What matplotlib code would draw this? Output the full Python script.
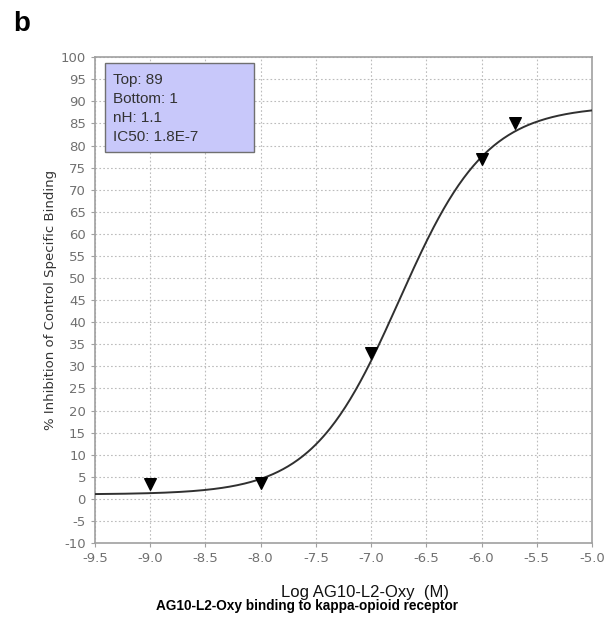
import numpy as np
import matplotlib.pyplot as plt
from matplotlib.patches import Rectangle

plt.rcParams['font.family'] = ['Liberation Sans', 'DejaVu Sans']
plt.rcParams['axes.unicode_minus'] = False

# measured points: log concentration (M) vs % inhibition
log_conc = [-9.0, -8.0, -7.0, -6.0, -5.7]
inhibition = [3.3, 3.6, 33.0, 77.0, 85.0]

# Hill fit parameters
top = 89
bottom = 1
n_h = 1.1
ic50 = 1.8e-7

x_ticks = np.arange(-9.5, -4.99, 0.5)
y_ticks = np.arange(-10, 101, 5)

fig = plt.figure(figsize=(6.15, 6.22), dpi=100)
ax = fig.add_axes([0.1545, 0.127, 0.808, 0.781])

xs = np.linspace(-9.5, -5.0, 400)
fit = bottom + (top - bottom) / (1 + 10 ** ((np.log10(ic50) - xs) * n_h))
ax.plot(xs, fit, color='#303030', lw=1.4, zorder=3)
ax.scatter(log_conc, inhibition, marker='v', s=70, color='black', zorder=4)

ax.set_xlim(-9.5, -5.0)
ax.set_ylim(-10, 100)
ax.set_xticks(x_ticks)
ax.set_xticklabels([f"{t:.1f}" for t in x_ticks], family='DejaVu Sans')
ax.set_yticks(y_ticks)
ax.set_yticklabels([str(t) for t in y_ticks], family='DejaVu Sans')
ax.grid(True, color='#bcbcbc', linestyle=(0, (1.5, 2)), lw=0.8)
ax.set_axisbelow(True)
for s in ax.spines.values():
    s.set_color('#a0a0a0')
    s.set_linewidth(1.2)
ax.tick_params(colors='#a0a0a0', labelcolor='#707070', labelsize=9.5, length=3)

ax.set_ylabel("% Inhibition of Control Specific Binding", fontsize=9.5, color='#333333',
              family='DejaVu Sans', labelpad=3)

# parameter box in the upper left corner
ax.add_patch(Rectangle((0.020, 0.8045), 0.300, 0.183, transform=ax.transAxes,
                       facecolor='#c8c8fa', edgecolor='#707070', lw=1.0, zorder=5))
legend_lines = [f"Top: {top}", f"Bottom: {bottom}", f"nH: {n_h}", "IC50: 1.8E-7"]
for i, line in enumerate(legend_lines):
    ax.text(0.037, 0.944 - i * 0.039, line, transform=ax.transAxes, va='baseline',
            ha='left', fontsize=11, color='#333333', zorder=6)

fig.text(0.593, 0.0402, "Log AG10-L2-Oxy  (M)", ha='center', va='baseline',
         fontsize=12, color='#111111')
fig.text(0.5, 0.0193, "AG10-L2-Oxy binding to kappa-opioid receptor", ha='center',
         va='baseline', fontsize=9.8, fontweight='bold', color='black')
fig.text(0.022, 0.95, "b", fontsize=20, fontweight='bold', color='black')

fig.savefig("out.png", dpi=100)
